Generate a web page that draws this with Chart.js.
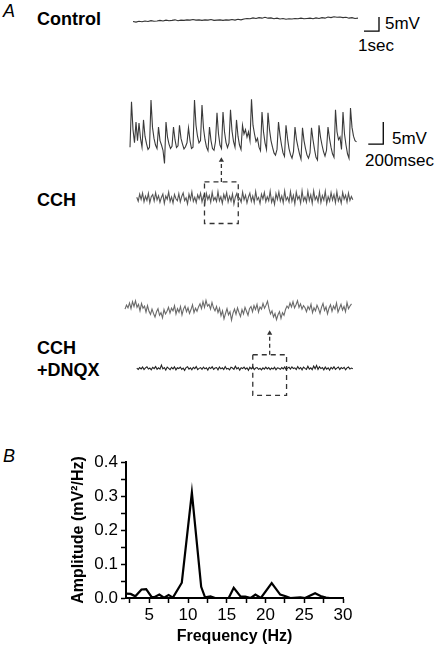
<!DOCTYPE html>
<html>
<head>
<meta charset="utf-8">
<script src="https://cdn.jsdelivr.net/npm/chart.js@4/dist/chart.umd.min.js"></script>
<style>
  body { margin: 0; background: #fff; }
  #page { position: relative; width: 438px; height: 646px; overflow: hidden; font-family: "Liberation Sans", Arial, sans-serif; color: #000; }
  canvas { position: absolute; }
  .lbl { position: absolute; line-height: 1; white-space: nowrap; font-size: 17px; }
  .bold { font-weight: bold; font-size: 18px; }
  .panel { font-style: italic; font-size: 18px; }
</style>
</head>
<body>
<div id="page">
  <div class="lbl panel" style="left:3px; top:2px;">A</div>
  <div class="lbl bold" style="left:37px; top:10px;">Control</div>
  <div class="lbl" style="left:385px; top:15px;">5mV</div>
  <div class="lbl" style="left:358px; top:37px;">1sec</div>
  <div class="lbl" style="left:392px; top:130px;">5mV</div>
  <div class="lbl" style="left:365px; top:152px;">200msec</div>
  <div class="lbl bold" style="left:37px; top:191px;">CCH</div>
  <div class="lbl bold" style="left:37px; top:339px;">CCH</div>
  <div class="lbl bold" style="left:37px; top:361px;">+DNQX</div>
  <div class="lbl panel" style="left:3px; top:447px;">B</div>

  <canvas id="ctrlChart"></canvas>
  <canvas id="cchZoomChart"></canvas>
  <canvas id="cchChart"></canvas>
  <canvas id="dnqxZoomChart"></canvas>
  <canvas id="dnqxChart"></canvas>
  <canvas id="spectrumChart"></canvas>
</div>
<script>
// ---- traces (mV), sampled at a fixed step ----
const slowStep = 0.2;   // sec, control trace
const fastStep = 0.1;   // sec, CCH / CCH+DNQX overview traces
const zoomStep = 20;    // msec, expanded traces

const controlTrace = [
  -0.9, -1.1, -0.8, -1.0, -0.7, -0.9, -0.6, -0.8, -0.7,
  -0.5, -0.7, -0.4, -0.6, -0.5, -0.3, -0.6, -0.4, -0.5, -0.3,
  -0.4, -0.2, -0.4, -0.3, -0.5, -0.3, -0.4, -0.2, -0.5, -0.4,
  -0.3, -0.5, -0.3, -0.4, -0.2, -0.4, -0.1, -0.3, 0.0, 0.2,
  0.1, 0.4, 0.2, 0.5, 0.3, 0.6, 0.3, 0.4, 0.1, 0.3,
  0.0, 0.2, -0.1, 0.1, 0.0, 0.2, 0.1, 0.3, 0.1, 0.2,
  0.3, 0.1, 0.4, 0.2, 0.5, 0.3, 0.7, 0.5, 0.8, 0.6,
  0.7, 0.5, 0.6, 0.3, 0.5, 0.2, 0.3
];

const cchTrace = [
  0.4, -1.2, 1.6, -0.5, 2.0, -1.4, 0.8, -0.9, 1.9, -1.8, 0.6, 1.4, -1.1, 2.2, -0.7,
  1.0, -1.6, 0.3, 1.7, -2.0, 0.9, -0.4, 2.4, -1.3, 0.5, -1.9, 1.5, -0.2, -1.0, 1.8,
  -1.5, 0.7, 2.1, -0.9, 0.2, -2.2, 1.6, -0.6, 2.5, -1.2, 0.4, -1.7, 1.3, -0.3, 2.0,
  -1.4, 0.9, -2.1, 1.9, -0.5, 1.1, -1.6, 2.3, -0.8, 0.3, -1.3, 2.6, -1.0, 0.6, -2.0,
  1.5, -0.4, 2.2, -1.5, 0.8, -1.1, 1.7, -2.3, 0.5, 1.9, -0.9, 0.1, -1.6, 2.4, -0.6,
  1.2, -1.9, 0.4, 2.0, -1.2, 0.9, -1.7, 2.7, -0.7, 0.3, -2.1, 1.6, -0.3, 2.3, -1.4,
  0.6, -1.0, 2.8, -1.6, 0.2, -2.4, 1.8, -0.5, 2.5, -1.1, 0.9, -1.8, 2.9, -0.8, 0.4,
  -1.5, 2.6, -1.2, 1.1, -2.2, 2.4, -0.4, 0.8, -1.9, 3.0, -1.0, 0.5, -1.6, 2.7, -0.9,
  1.3, -2.0, 2.9, -0.6, 0.7, -1.4, 2.5, -1.7, 1.0, -0.8, 2.8, -2.1, 0.6, -1.2, 2.2,
  -0.7, 1.4, -1.8, 2.6, -1.1, 0.5, -2.0, 2.3, -0.4, 1.2, -1.5, 2.0, -0.9, 0.7, -0.6
];

const cchZoomTrace = [
  -0.5, 9.8, 3.5, 0.5, 5.2, 1.0, 5.0, 1.5, -0.5, 5.7,
  2.0, 0.3, -1.0, -0.5, 10.2, 4.0, 1.5, 0.0, -0.8, 4.1,
  1.0, 0.0, -1.2, -4.2, 5.2, 1.8, 0.2, -0.8, -0.3, 4.1,
  1.2, -0.6, -0.2, 4.5, 1.5, 0.2, -0.9, -0.4, 0.5, 3.9,
  1.0, -0.8, -0.5, 10.2, 4.5, 2.0, 0.5, 1.0, 9.1, 3.8,
  1.2, -0.5, -1.3, 4.1, 1.0, -0.8, -1.2, 0.8, 7.3, 2.5,
  0.0, -0.8, 7.5, 3.0, 0.6, -0.6, 0.5, 8.0, 3.2, 0.8,
  -0.5, 5.7, 2.0, 0.0, -1.0, 4.5, 2.5, 3.5, 1.8, 3.0,
  1.0, 10.4, 4.5, 2.5, 0.8, 1.5, -0.5, -1.3, 7.5, 3.0,
  0.5, -1.0, 7.3, 3.5, 1.0, -0.5, -1.8, -2.3, -1.0, 5.2,
  2.2, 0.0, -1.8, -2.6, 4.5, 1.5, -0.8, -2.2, -3.0, -1.5,
  4.1, 1.2, -0.5, -2.0, -3.2, 3.9, 1.0, -0.8, -2.3, -3.0,
  -1.8, 3.9, 1.2, -1.0, -2.8, -3.4, 4.5, 1.8, 0.0, -1.5,
  -2.5, -1.2, 4.1, 1.5, -0.5, -2.0, -2.8, 8.0, 3.0, 1.2,
  1.8, -1.0, 7.5, 2.5, 0.0, -2.0, -3.0, 8.4, 4.0, 2.0,
  1.0, 0.7
];

const dnqxZoomTrace = [
  0.2, 1.1, 0.5, 1.6, 0.3, 1.9, 0.8, 2.1, 0.6, 1.3, -0.2, 1.5, 0.4, 0.9, -0.5, 1.0, -0.3,
  -1.0, 0.2, -0.8, -1.6, -0.4, 0.3, -1.2, -0.6, -1.8, 0.1, -0.9, -0.3,
  0.6, -0.7, 0.4, -0.2, 1.0, -0.9, 0.3, -0.5, 0.8, -1.1, 0.2, 0.9, -0.4, 0.5, -0.8, 0.1, 1.2, -0.6, 0.4, -0.3, 0.7,
  1.4, 0.3, 1.9, 0.6, 2.2, 0.9, 1.3, 0.2, 1.7, 0.5, -0.2, 0.8,
  -0.6, 0.4, -1.3, -0.2, -2.0, -0.8, 0.3, -1.1, -0.4, -2.3, -0.7, 0.2, -1.0, 0.5, -0.6, -1.5, 0.1, -0.9, 0.6, -0.3, -1.2, 0.3,
  0.8, -0.4, 1.0, 0.1, 1.3, -0.5, 0.7, 0.2, 1.5, 0.4, 1.1, 2.0,
  0.3, -0.9, -0.2, -1.6, -0.8, -2.2, -1.1, -0.4, -1.9, -0.6, -1.2,
  0.1, 0.9, 0.4, 1.6, 0.7, 1.9, 0.5, 1.2, 2.1, 0.6, 1.4, 0.2, 1.0, 0.5,
  -0.4, 0.8, 0.1, 1.3, -0.6, 0.5, -0.2, 1.1, 0.3, -0.8, 0.6, 1.5, -0.1, 0.7, -0.9, 0.4,
  1.2, -0.3, 0.9, 0.2, 1.6, -0.5, 0.4, 1.3, 0.0, 0.8, -0.4, 1.7, 0.3, 0.9, 1.4
];

const dnqxTrace = [
  0.1, -0.4, 0.3, -0.2, 0.5, -0.5, 0.2, 0.6, -0.3, 0.1, -0.6, 0.4, -0.1, 0.7, -0.4,
  0.2, -0.3, 1.3, -0.2, 0.3, -0.7, 0.5, 0.0, -0.5, 0.4, -0.2, 0.6, -0.6, 0.2, -0.1,
  0.5, -0.4, 0.1, -0.8, 0.3, 0.6, -0.3, 0.2, -0.6, 0.4, -0.1, 0.7, -0.5, 0.0, 0.3,
  -0.4, 0.5, -0.2, 0.2, -0.7, 0.4, -0.1, 0.6, -0.4, 0.1, 0.3, -0.6, 0.5, -0.2, 0.2,
  -0.5, 0.7, -0.3, 0.0, -0.6, 0.4, 0.1, -0.4, 0.8, -0.2, 0.3, -0.7, 0.2, -0.1, 0.5,
  -0.3, 0.2, -0.8, 0.4, -0.2, 0.6, -0.5, 0.1, 0.3, -0.4, 0.0, -0.6, 0.2, -0.3, 0.5,
  -0.2, 0.3, -0.5, 0.1, -0.3, 0.4, -0.6, 0.2, 0.0, -0.4, 0.3, -0.2, 0.5, -0.5, 0.1,
  0.4, -0.3, 0.6, -0.1, 0.2, -0.5, 0.7, -0.2, 0.3, -0.6, 0.5, 0.0, -0.4, 0.8, -0.3,
  0.2, -0.5, 0.9, -0.2, 1.1, -0.4, 0.6, -0.1, 0.3, -0.6, 0.5, -0.3, 0.2, -0.7, 0.4,
  -0.2, 0.6, -0.4, 0.1, 0.5, -0.5, 0.3, -0.1, 0.4, -0.6, 0.2, 0.5, -0.3, 0.1, -0.2
];

// expanded windows (sec) marked on the overview traces
const cchWindow = [4.67, 7.0];
const dnqxWindow = [8.0, 10.33];

// ---- power spectrum (panel B) ----
const freqHz = [2.0, 2.6, 3.2, 4.0, 4.6, 5.3, 5.7, 6.3, 6.9, 7.5, 8.05, 9.2, 10.5, 11.7, 12.2, 12.9, 13.5,
  15.25, 15.9, 16.8, 17.4, 18.1, 18.7, 19.4, 20.8, 21.9, 22.6, 23.2, 24.5, 25.1, 26.4, 27.1, 27.8, 28.3];
const amplitude = [0.013, 0.012, 0.005, 0.025, 0.026, 0.003, 0.003, 0.010, 0.001, 0.009, 0.001, 0.045, 0.31, 0.033, 0.002, 0.005, 0.0,
  0.0, 0.030, 0.004, 0.004, 0.0, 0.010, 0.0, 0.044, 0.010, 0.005, 0.0, 0.002, 0.0, 0.014, 0.006, 0.001, 0.0];
const freqTicks = [2.5, 5, 7.5, 10, 12.5, 15, 17.5, 20, 22.5, 25, 27.5, 30];
const ampTicks = [0, 0.05, 0.1, 0.15, 0.2, 0.25, 0.3, 0.35, 0.4];

// ---- helpers ----
function trace(values, step, color) {
  return {
    data: values.map((v, i) => ({ x: i * step, y: v })),
    showLine: true, borderColor: color, borderWidth: 1.1, pointRadius: 0
  };
}

function scaleBar(x0, y0, dx, dy) {
  return {
    data: [{ x: x0, y: y0 }, { x: x0 + dx, y: y0 }, { x: x0 + dx, y: y0 + dy }],
    showLine: true, borderColor: '#000', borderWidth: 1.3, pointRadius: 0
  };
}

function dashBox(win, top, bottom) {
  return {
    data: [{ x: win[0], y: top }, { x: win[1], y: top }, { x: win[1], y: bottom }, { x: win[0], y: bottom }, { x: win[0], y: top }],
    showLine: true, borderColor: '#333', borderWidth: 1.3, borderDash: [5, 4], pointRadius: 0
  };
}

function arrow(x, from, to) {
  return {
    data: [{ x: x, y: from }, { x: x, y: to }],
    showLine: true, borderColor: '#333', backgroundColor: '#333', borderWidth: 1.3, borderDash: [4, 3],
    pointStyle: 'triangle', pointRadius: [0, 3], pointBorderWidth: 0
  };
}

// box = [left, top, width, height] on the page
function traceChart(id, box, xRange, yRange, datasets) {
  const canvas = document.getElementById(id);
  canvas.width = box[2];
  canvas.height = box[3];
  canvas.style.left = box[0] + 'px';
  canvas.style.top = box[1] + 'px';
  return new Chart(canvas, {
    type: 'scatter',
    data: { datasets: datasets },
    options: {
      responsive: false,
      animation: false,
      devicePixelRatio: 1,
      layout: { padding: 0 },
      plugins: { legend: { display: false }, tooltip: { enabled: false } },
      scales: {
        x: { type: 'linear', display: false, min: xRange[0], max: xRange[1] },
        y: { type: 'linear', display: false, min: yRange[0], max: yRange[1] }
      },
      elements: { line: { tension: 0 } }
    }
  });
}

// Control (1 s = 15 px, 5 mV = 14 px)
traceChart('ctrlChart', [125, 5, 263, 42], [-0.533, 17.0], [-10, 5], [
  trace(controlTrace, slowStep, '#333'),
  scaleBar(15.4, -4.3, 1, 5)
]);

// CCH expanded (200 ms = 15 px, 5 mV = 22 px)
traceChart('cchZoomChart', [126, 95, 264, 70], [-53.3, 3466.7], [-4.545, 11.364], [
  trace(cchZoomTrace, zoomStep, '#3a3a3a'),
  scaleBar(3177, 0.2, 200, 5)
]);

// CCH overview with marked window
traceChart('cchChart', [126, 150, 240, 82], [-0.467, 15.533], [-11.786, 17.5], [
  trace(cchTrace, fastStep, '#555'),
  dashBox(cchWindow, 6.43, -10),
  arrow((cchWindow[0] + cchWindow[1]) / 2, 6.43, 15.0)
]);

// CCH + DNQX expanded
traceChart('dnqxZoomChart', [120, 292, 240, 34], [-66.7, 3133.3], [-3.64, 4.09], [
  trace(dnqxZoomTrace, zoomStep, '#6a6a6a')
]);

// CCH + DNQX overview with marked window
traceChart('dnqxChart', [126, 320, 240, 84], [-0.467, 15.533], [-12.5, 17.5], [
  trace(dnqxTrace, fastStep, '#222'),
  dashBox(dnqxWindow, 5.36, -10.71),
  arrow((dnqxWindow[0] + dnqxWindow[1]) / 2, 5.36, 13.8)
]);

// ---- Panel B: spectrum ----
(function () {
  const canvas = document.getElementById('spectrumChart');
  canvas.width = 300;
  canvas.height = 206;
  canvas.style.left = '60px';
  canvas.style.top = '440px';
  const tickFont = { family: '"Liberation Sans", Arial, sans-serif', size: 17 };
  const titleFont = { family: '"Liberation Sans", Arial, sans-serif', size: 16, weight: 'bold' };
  new Chart(canvas, {
    type: 'scatter',
    data: {
      datasets: [{
        data: freqHz.map((f, i) => ({ x: f, y: amplitude[i] })),
        showLine: true, borderColor: '#000', borderWidth: 2.2, pointRadius: 0, tension: 0
      }]
    },
    options: {
      responsive: false,
      animation: false,
      devicePixelRatio: 1,
      layout: { padding: { top: 22, right: 17, left: 0, bottom: 0 } },
      plugins: { legend: { display: false }, tooltip: { enabled: false } },
      scales: {
        x: {
          type: 'linear', min: 2, max: 30,
          afterBuildTicks: axis => { axis.ticks = freqTicks.map(v => ({ value: v })); },
          afterFit: s => { s.height = 48; },
          ticks: { color: '#000', font: tickFont, padding: 2, maxRotation: 0, autoSkip: false,
            callback: v => (v % 5 === 0 ? String(v) : '') },
          grid: { drawOnChartArea: false, drawTicks: true, tickLength: 5, tickColor: '#000', tickWidth: 1.5 },
          border: { display: true, color: '#000', width: 2 },
          title: { display: true, text: 'Frequency (Hz)', color: '#000', font: titleFont, padding: { top: 0, bottom: 0 } }
        },
        y: {
          type: 'linear', min: 0, max: 0.4,
          afterBuildTicks: axis => { axis.ticks = ampTicks.map(v => ({ value: v })); },
          afterFit: s => { s.width = 66; },
          ticks: { color: '#000', font: tickFont, padding: 3, autoSkip: false,
            callback: v => (Math.round(v * 100) % 10 === 0 ? v.toFixed(1) : '') },
          grid: { drawOnChartArea: false, drawTicks: true, tickLength: 5, tickColor: '#000', tickWidth: 1.5 },
          border: { display: true, color: '#000', width: 2 },
          title: { display: true, text: 'Amplitude (mV\u00b2/Hz)', color: '#000', font: titleFont, padding: { top: 9, bottom: 0 } }
        }
      }
    }
  });
})();
</script>
</body>
</html>
